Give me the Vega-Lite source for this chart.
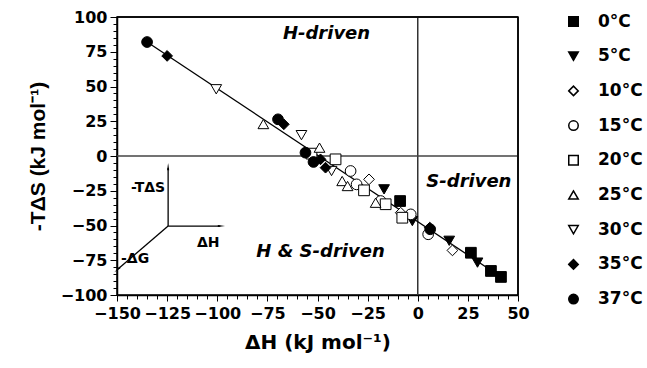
{
  "$schema": "https://vega.github.io/schema/vega-lite/v6.json",
  "width": 401,
  "height": 278,
  "autosize": "none",
  "padding": {"left": 117, "top": 17, "right": 129, "bottom": 73},
  "background": "white",
  "view": {"stroke": "black", "strokeWidth": 1.5},
  "config": {
    "font": "DejaVu Sans",
    "axis": {
      "domainColor": "black", "domainWidth": 1.5, "tickColor": "black", "tickWidth": 1,
      "labelFont": "DejaVu Sans", "labelFontSize": 16, "labelFontWeight": "bold", "labelColor": "black",
      "titleFont": "DejaVu Sans", "titleFontSize": 20, "titleFontWeight": "bold", "titleColor": "black",
      "grid": false, "labelOverlap": false, "labelFlush": false
    },
    "legend": {
      "labelFont": "DejaVu Sans", "labelFontSize": 17, "labelFontWeight": "bold", "labelColor": "black"
    }
  },
  "datasets": {
    "points": [
      {"T": "0°C", "dh": -8.8, "ts": -32.4},
      {"T": "0°C", "dh": 26.5, "ts": -69.6},
      {"T": "0°C", "dh": 36.5, "ts": -82.7},
      {"T": "0°C", "dh": 41.5, "ts": -87},
      {"T": "5°C", "dh": -16.8, "ts": -24},
      {"T": "5°C", "dh": -2.7, "ts": -46.8},
      {"T": "5°C", "dh": 15.7, "ts": -61},
      {"T": "5°C", "dh": 29.8, "ts": -76.7},
      {"T": "10°C", "dh": -24.3, "ts": -16.8},
      {"T": "10°C", "dh": -8.5, "ts": -40.8},
      {"T": "10°C", "dh": 17.3, "ts": -67.9},
      {"T": "15°C", "dh": -33.5, "ts": -10.8},
      {"T": "15°C", "dh": -30.5, "ts": -20.4},
      {"T": "15°C", "dh": -18.5, "ts": -32.4},
      {"T": "15°C", "dh": -3.5, "ts": -42},
      {"T": "15°C", "dh": 5.2, "ts": -56.3},
      {"T": "20°C", "dh": -53, "ts": 1.7},
      {"T": "20°C", "dh": -41, "ts": -2.4},
      {"T": "20°C", "dh": -26.8, "ts": -24.7},
      {"T": "20°C", "dh": -16, "ts": -34.7},
      {"T": "20°C", "dh": -7.7, "ts": -44.4},
      {"T": "25°C", "dh": -77, "ts": 23},
      {"T": "25°C", "dh": -49, "ts": 6},
      {"T": "25°C", "dh": -37.7, "ts": -18},
      {"T": "25°C", "dh": -35, "ts": -21.6},
      {"T": "25°C", "dh": -21, "ts": -33.6},
      {"T": "30°C", "dh": -100.5, "ts": 48},
      {"T": "30°C", "dh": -58, "ts": 15},
      {"T": "30°C", "dh": -43, "ts": -10.8},
      {"T": "35°C", "dh": -125, "ts": 72},
      {"T": "35°C", "dh": -66.8, "ts": 22.8},
      {"T": "35°C", "dh": -48.5, "ts": -2.4},
      {"T": "35°C", "dh": -46, "ts": -8.4},
      {"T": "35°C", "dh": 6, "ts": -51.5},
      {"T": "37°C", "dh": -135, "ts": 82},
      {"T": "37°C", "dh": -69.7, "ts": 26.4},
      {"T": "37°C", "dh": -56, "ts": 2.4},
      {"T": "37°C", "dh": -52, "ts": -4.3},
      {"T": "37°C", "dh": 6.2, "ts": -52.7}
    ],
    "fit": [
      {"dh": -135, "ts": 82},
      {"dh": 41.5, "ts": -87}
    ],
    "labels": [
      {"label": "H-driven", "dh": -45.5, "ts": 87.8},
      {"label": "S-driven", "dh": 25.5, "ts": -18.7},
      {"label": "H & S-driven", "dh": -48.5, "ts": -69}
    ],
    "insetLabels": [
      {"label": "-TΔS", "dh": -134.5, "ts": -23},
      {"label": "ΔH", "dh": -104.5, "ts": -62.6},
      {"label": "-ΔG", "dh": -141, "ts": -74}
    ],
    "arrows": [
      {"arrow": "up", "x1": -124.5, "y1": -50.4, "x2": -124.5, "y2": -8.6},
      {"arrow": "right", "x1": -124.5, "y1": -50.4, "x2": -98.5, "y2": -50.4},
      {"arrow": "diag", "x1": -124.5, "y1": -50.4, "x2": -149.5, "y2": -81.3}
    ],
    "one": [{"a": 1}]
  },
  "layer": [
    {
      "data": {"name": "one"},
      "mark": {"type": "rule", "color": "#333", "strokeWidth": 1.5},
      "encoding": {"x": {"datum": 0, "type": "quantitative", "scale": {"domain": [-150, 50], "nice": false, "zero": false}, "axis": {"title": "ΔH (kJ mol⁻¹)", "values": [-150,-145,-140,-135,-130,-125,-120,-115,-110,-105,-100,-95,-90,-85,-80,-75,-70,-65,-60,-55,-50,-45,-40,-35,-30,-25,-20,-15,-10,-5,0,5,10,15,20,25,30,35,40,45,50], "labelExpr": "datum.value % 25 === 0 ? datum.label : ''", "tickSize": {"condition": {"test": "datum.value % 25 === 0", "value": 6}, "value": 4}, "labelPadding": 4, "titlePadding": 11, "labelOverlap": false, "labelFlush": false}}}
    },
    {
      "data": {"name": "one"},
      "mark": {"type": "rule", "color": "#444", "strokeWidth": 1.5},
      "encoding": {"y": {"datum": 0, "type": "quantitative", "scale": {"domain": [-100, 100], "nice": false, "zero": false}, "axis": {"title": "-TΔS (kJ mol⁻¹)", "titleFont": "Liberation Sans", "titleFontSize": 21, "values": [-100,-95,-90,-85,-80,-75,-70,-65,-60,-55,-50,-45,-40,-35,-30,-25,-20,-15,-10,-5,0,5,10,15,20,25,30,35,40,45,50,55,60,65,70,75,80,85,90,95,100], "labelExpr": "datum.value % 25 === 0 ? datum.label : ''", "tickSize": {"condition": {"test": "datum.value % 25 === 0", "value": 7}, "value": 4}, "labelPadding": 3, "titlePadding": 12, "labelOverlap": false, "labelFlush": false}}}
    },
    {
      "data": {"name": "one"},
      "mark": {"type": "rule", "color": "black", "strokeWidth": 1.5},
      "encoding": {"x": {"datum": 50, "type": "quantitative", "axis": {"title": "ΔH (kJ mol⁻¹)", "values": [-150,-145,-140,-135,-130,-125,-120,-115,-110,-105,-100,-95,-90,-85,-80,-75,-70,-65,-60,-55,-50,-45,-40,-35,-30,-25,-20,-15,-10,-5,0,5,10,15,20,25,30,35,40,45,50], "labelExpr": "datum.value % 25 === 0 ? datum.label : ''", "tickSize": {"condition": {"test": "datum.value % 25 === 0", "value": 6}, "value": 4}, "labelPadding": 4, "titlePadding": 11, "labelOverlap": false, "labelFlush": false}}}
    },
    {
      "data": {"name": "one"},
      "mark": {"type": "rule", "color": "black", "strokeWidth": 1.5},
      "encoding": {"y": {"datum": 100, "type": "quantitative", "axis": {"title": "-TΔS (kJ mol⁻¹)", "titleFont": "Liberation Sans", "titleFontSize": 21, "values": [-100,-95,-90,-85,-80,-75,-70,-65,-60,-55,-50,-45,-40,-35,-30,-25,-20,-15,-10,-5,0,5,10,15,20,25,30,35,40,45,50,55,60,65,70,75,80,85,90,95,100], "labelExpr": "datum.value % 25 === 0 ? datum.label : ''", "tickSize": {"condition": {"test": "datum.value % 25 === 0", "value": 7}, "value": 4}, "labelPadding": 3, "titlePadding": 12, "labelOverlap": false, "labelFlush": false}}}
    },
    {
      "data": {"name": "fit"},
      "mark": {"type": "line", "color": "black", "strokeWidth": 1.3},
      "encoding": {
        "x": {"field": "dh", "type": "quantitative", "axis": {"title": "ΔH (kJ mol⁻¹)", "values": [-150,-145,-140,-135,-130,-125,-120,-115,-110,-105,-100,-95,-90,-85,-80,-75,-70,-65,-60,-55,-50,-45,-40,-35,-30,-25,-20,-15,-10,-5,0,5,10,15,20,25,30,35,40,45,50], "labelExpr": "datum.value % 25 === 0 ? datum.label : ''", "tickSize": {"condition": {"test": "datum.value % 25 === 0", "value": 6}, "value": 4}, "labelPadding": 4, "titlePadding": 11, "labelOverlap": false, "labelFlush": false}},
        "y": {"field": "ts", "type": "quantitative", "axis": {"title": "-TΔS (kJ mol⁻¹)", "titleFont": "Liberation Sans", "titleFontSize": 21, "values": [-100,-95,-90,-85,-80,-75,-70,-65,-60,-55,-50,-45,-40,-35,-30,-25,-20,-15,-10,-5,0,5,10,15,20,25,30,35,40,45,50,55,60,65,70,75,80,85,90,95,100], "labelExpr": "datum.value % 25 === 0 ? datum.label : ''", "tickSize": {"condition": {"test": "datum.value % 25 === 0", "value": 7}, "value": 4}, "labelPadding": 3, "titlePadding": 12, "labelOverlap": false, "labelFlush": false}}
      }
    },
    {
      "data": {"name": "arrows"},
      "mark": {"type": "rule", "color": "black", "strokeWidth": 1.3},
      "encoding": {
        "x": {"field": "x1", "type": "quantitative", "axis": {"title": "ΔH (kJ mol⁻¹)", "values": [-150,-145,-140,-135,-130,-125,-120,-115,-110,-105,-100,-95,-90,-85,-80,-75,-70,-65,-60,-55,-50,-45,-40,-35,-30,-25,-20,-15,-10,-5,0,5,10,15,20,25,30,35,40,45,50], "labelExpr": "datum.value % 25 === 0 ? datum.label : ''", "tickSize": {"condition": {"test": "datum.value % 25 === 0", "value": 6}, "value": 4}, "labelPadding": 4, "titlePadding": 11, "labelOverlap": false, "labelFlush": false}},
        "y": {"field": "y1", "type": "quantitative", "axis": {"title": "-TΔS (kJ mol⁻¹)", "titleFont": "Liberation Sans", "titleFontSize": 21, "values": [-100,-95,-90,-85,-80,-75,-70,-65,-60,-55,-50,-45,-40,-35,-30,-25,-20,-15,-10,-5,0,5,10,15,20,25,30,35,40,45,50,55,60,65,70,75,80,85,90,95,100], "labelExpr": "datum.value % 25 === 0 ? datum.label : ''", "tickSize": {"condition": {"test": "datum.value % 25 === 0", "value": 7}, "value": 4}, "labelPadding": 3, "titlePadding": 12, "labelOverlap": false, "labelFlush": false}},
        "x2": {"field": "x2"},
        "y2": {"field": "y2"}
      }
    },
    {
      "data": {"name": "arrows"},
      "transform": [{"filter": "datum.arrow === 'up'"}],
      "mark": {"type": "point", "shape": "wedge", "filled": true, "color": "black", "size": 70, "angle": 0, "opacity": 1},
      "encoding": {
        "x": {"field": "x2", "type": "quantitative", "axis": {"title": "ΔH (kJ mol⁻¹)", "values": [-150,-145,-140,-135,-130,-125,-120,-115,-110,-105,-100,-95,-90,-85,-80,-75,-70,-65,-60,-55,-50,-45,-40,-35,-30,-25,-20,-15,-10,-5,0,5,10,15,20,25,30,35,40,45,50], "labelExpr": "datum.value % 25 === 0 ? datum.label : ''", "tickSize": {"condition": {"test": "datum.value % 25 === 0", "value": 6}, "value": 4}, "labelPadding": 4, "titlePadding": 11, "labelOverlap": false, "labelFlush": false}},
        "y": {"field": "y2", "type": "quantitative", "axis": {"title": "-TΔS (kJ mol⁻¹)", "titleFont": "Liberation Sans", "titleFontSize": 21, "values": [-100,-95,-90,-85,-80,-75,-70,-65,-60,-55,-50,-45,-40,-35,-30,-25,-20,-15,-10,-5,0,5,10,15,20,25,30,35,40,45,50,55,60,65,70,75,80,85,90,95,100], "labelExpr": "datum.value % 25 === 0 ? datum.label : ''", "tickSize": {"condition": {"test": "datum.value % 25 === 0", "value": 7}, "value": 4}, "labelPadding": 3, "titlePadding": 12, "labelOverlap": false, "labelFlush": false}}
      }
    },
    {
      "data": {"name": "arrows"},
      "transform": [{"filter": "datum.arrow === 'right'"}],
      "mark": {"type": "point", "shape": "wedge", "filled": true, "color": "black", "size": 70, "angle": 90, "opacity": 1},
      "encoding": {
        "x": {"field": "x2", "type": "quantitative", "axis": {"title": "ΔH (kJ mol⁻¹)", "values": [-150,-145,-140,-135,-130,-125,-120,-115,-110,-105,-100,-95,-90,-85,-80,-75,-70,-65,-60,-55,-50,-45,-40,-35,-30,-25,-20,-15,-10,-5,0,5,10,15,20,25,30,35,40,45,50], "labelExpr": "datum.value % 25 === 0 ? datum.label : ''", "tickSize": {"condition": {"test": "datum.value % 25 === 0", "value": 6}, "value": 4}, "labelPadding": 4, "titlePadding": 11, "labelOverlap": false, "labelFlush": false}},
        "y": {"field": "y2", "type": "quantitative", "axis": {"title": "-TΔS (kJ mol⁻¹)", "titleFont": "Liberation Sans", "titleFontSize": 21, "values": [-100,-95,-90,-85,-80,-75,-70,-65,-60,-55,-50,-45,-40,-35,-30,-25,-20,-15,-10,-5,0,5,10,15,20,25,30,35,40,45,50,55,60,65,70,75,80,85,90,95,100], "labelExpr": "datum.value % 25 === 0 ? datum.label : ''", "tickSize": {"condition": {"test": "datum.value % 25 === 0", "value": 7}, "value": 4}, "labelPadding": 3, "titlePadding": 12, "labelOverlap": false, "labelFlush": false}}
      }
    },
    {
      "data": {"name": "arrows"},
      "transform": [{"filter": "datum.arrow === 'diag'"}],
      "mark": {"type": "point", "shape": "wedge", "filled": true, "color": "black", "size": 70, "angle": 229, "opacity": 1},
      "encoding": {
        "x": {"field": "x2", "type": "quantitative", "axis": {"title": "ΔH (kJ mol⁻¹)", "values": [-150,-145,-140,-135,-130,-125,-120,-115,-110,-105,-100,-95,-90,-85,-80,-75,-70,-65,-60,-55,-50,-45,-40,-35,-30,-25,-20,-15,-10,-5,0,5,10,15,20,25,30,35,40,45,50], "labelExpr": "datum.value % 25 === 0 ? datum.label : ''", "tickSize": {"condition": {"test": "datum.value % 25 === 0", "value": 6}, "value": 4}, "labelPadding": 4, "titlePadding": 11, "labelOverlap": false, "labelFlush": false}},
        "y": {"field": "y2", "type": "quantitative", "axis": {"title": "-TΔS (kJ mol⁻¹)", "titleFont": "Liberation Sans", "titleFontSize": 21, "values": [-100,-95,-90,-85,-80,-75,-70,-65,-60,-55,-50,-45,-40,-35,-30,-25,-20,-15,-10,-5,0,5,10,15,20,25,30,35,40,45,50,55,60,65,70,75,80,85,90,95,100], "labelExpr": "datum.value % 25 === 0 ? datum.label : ''", "tickSize": {"condition": {"test": "datum.value % 25 === 0", "value": 7}, "value": 4}, "labelPadding": 3, "titlePadding": 12, "labelOverlap": false, "labelFlush": false}}
      }
    },
    {
      "data": {"name": "insetLabels"},
      "mark": {"type": "text", "font": "DejaVu Sans", "fontSize": 14, "fontWeight": "bold", "color": "black"},
      "encoding": {
        "x": {"field": "dh", "type": "quantitative", "axis": {"title": "ΔH (kJ mol⁻¹)", "values": [-150,-145,-140,-135,-130,-125,-120,-115,-110,-105,-100,-95,-90,-85,-80,-75,-70,-65,-60,-55,-50,-45,-40,-35,-30,-25,-20,-15,-10,-5,0,5,10,15,20,25,30,35,40,45,50], "labelExpr": "datum.value % 25 === 0 ? datum.label : ''", "tickSize": {"condition": {"test": "datum.value % 25 === 0", "value": 6}, "value": 4}, "labelPadding": 4, "titlePadding": 11, "labelOverlap": false, "labelFlush": false}},
        "y": {"field": "ts", "type": "quantitative", "axis": {"title": "-TΔS (kJ mol⁻¹)", "titleFont": "Liberation Sans", "titleFontSize": 21, "values": [-100,-95,-90,-85,-80,-75,-70,-65,-60,-55,-50,-45,-40,-35,-30,-25,-20,-15,-10,-5,0,5,10,15,20,25,30,35,40,45,50,55,60,65,70,75,80,85,90,95,100], "labelExpr": "datum.value % 25 === 0 ? datum.label : ''", "tickSize": {"condition": {"test": "datum.value % 25 === 0", "value": 7}, "value": 4}, "labelPadding": 3, "titlePadding": 12, "labelOverlap": false, "labelFlush": false}},
        "text": {"field": "label"}
      }
    },
    {
      "data": {"name": "labels"},
      "mark": {"type": "text", "font": "DejaVu Sans", "fontSize": 18, "fontWeight": "bold", "fontStyle": "italic", "color": "black"},
      "encoding": {
        "x": {"field": "dh", "type": "quantitative", "axis": {"title": "ΔH (kJ mol⁻¹)", "values": [-150,-145,-140,-135,-130,-125,-120,-115,-110,-105,-100,-95,-90,-85,-80,-75,-70,-65,-60,-55,-50,-45,-40,-35,-30,-25,-20,-15,-10,-5,0,5,10,15,20,25,30,35,40,45,50], "labelExpr": "datum.value % 25 === 0 ? datum.label : ''", "tickSize": {"condition": {"test": "datum.value % 25 === 0", "value": 6}, "value": 4}, "labelPadding": 4, "titlePadding": 11, "labelOverlap": false, "labelFlush": false}},
        "y": {"field": "ts", "type": "quantitative", "axis": {"title": "-TΔS (kJ mol⁻¹)", "titleFont": "Liberation Sans", "titleFontSize": 21, "values": [-100,-95,-90,-85,-80,-75,-70,-65,-60,-55,-50,-45,-40,-35,-30,-25,-20,-15,-10,-5,0,5,10,15,20,25,30,35,40,45,50,55,60,65,70,75,80,85,90,95,100], "labelExpr": "datum.value % 25 === 0 ? datum.label : ''", "tickSize": {"condition": {"test": "datum.value % 25 === 0", "value": 7}, "value": 4}, "labelPadding": 3, "titlePadding": 12, "labelOverlap": false, "labelFlush": false}},
        "text": {"field": "label"}
      }
    },
    {
      "data": {"name": "points"},
      "mark": {"type": "point", "size": 115, "stroke": "black", "strokeWidth": 1, "opacity": 1, "filled": false},
      "encoding": {
        "x": {"field": "dh", "type": "quantitative", "axis": {"title": "ΔH (kJ mol⁻¹)", "values": [-150,-145,-140,-135,-130,-125,-120,-115,-110,-105,-100,-95,-90,-85,-80,-75,-70,-65,-60,-55,-50,-45,-40,-35,-30,-25,-20,-15,-10,-5,0,5,10,15,20,25,30,35,40,45,50], "labelExpr": "datum.value % 25 === 0 ? datum.label : ''", "tickSize": {"condition": {"test": "datum.value % 25 === 0", "value": 6}, "value": 4}, "labelPadding": 4, "titlePadding": 11, "labelOverlap": false, "labelFlush": false}},
        "y": {"field": "ts", "type": "quantitative", "axis": {"title": "-TΔS (kJ mol⁻¹)", "titleFont": "Liberation Sans", "titleFontSize": 21, "values": [-100,-95,-90,-85,-80,-75,-70,-65,-60,-55,-50,-45,-40,-35,-30,-25,-20,-15,-10,-5,0,5,10,15,20,25,30,35,40,45,50,55,60,65,70,75,80,85,90,95,100], "labelExpr": "datum.value % 25 === 0 ? datum.label : ''", "tickSize": {"condition": {"test": "datum.value % 25 === 0", "value": 7}, "value": 4}, "labelPadding": 3, "titlePadding": 12, "labelOverlap": false, "labelFlush": false}},
        "shape": {
          "field": "T", "type": "nominal",
          "scale": {
            "domain": ["0°C","5°C","10°C","15°C","20°C","25°C","30°C","35°C","37°C"],
            "range": ["square","triangle-down","diamond","circle","square","triangle-up","triangle-down","diamond","circle"]
          },
          "legend": {
            "title": null, "orient": "none", "legendX": 448, "legendY": -4,
            "symbolSize": 90, "labelOffset": 16, "rowPadding": 16.7,
            "encode": {"symbols": {"update": {"stroke": {"value": "black"}, "strokeWidth": {"value": 1}}}}
          }
        },
        "fill": {
          "field": "T", "type": "nominal",
          "scale": {
            "domain": ["0°C","5°C","10°C","15°C","20°C","25°C","30°C","35°C","37°C"],
            "range": ["black","black","white","white","white","white","white","black","black"]
          },
          "legend": {
            "title": null, "orient": "none", "legendX": 448, "legendY": -4,
            "symbolSize": 90, "labelOffset": 16, "rowPadding": 16.7,
            "encode": {"symbols": {"update": {"stroke": {"value": "black"}, "strokeWidth": {"value": 1}}}}
          }
        }
      }
    }
  ]
}
